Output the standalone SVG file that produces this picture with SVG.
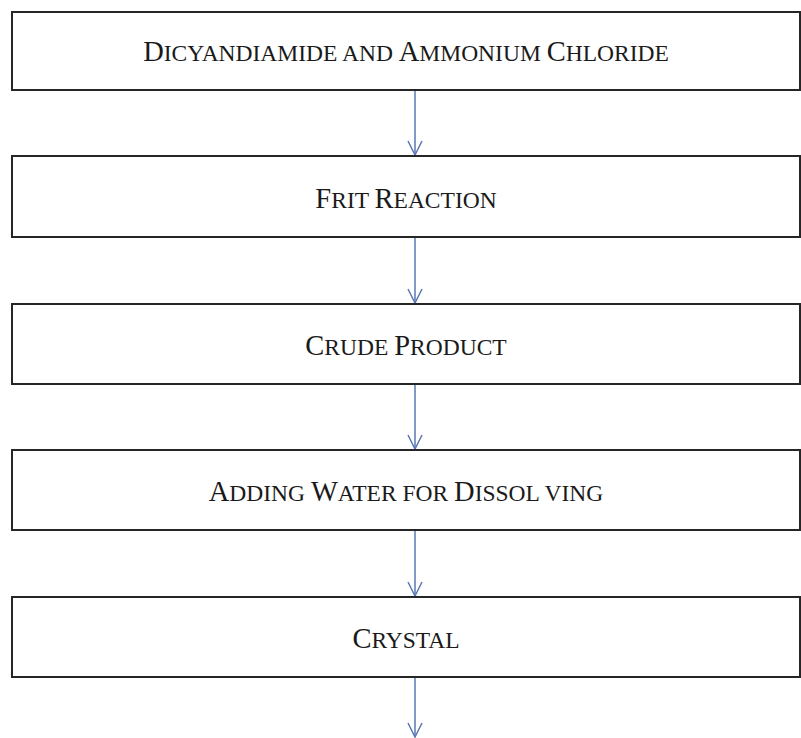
<svg xmlns="http://www.w3.org/2000/svg" width="801" height="738" viewBox="0 0 801 738">
<style>
.box{fill:#fff;stroke:#262626;stroke-width:2}
.lbl{font-family:"Liberation Serif","Times New Roman",serif;font-size:28.5px;fill:#1a1a1a;text-anchor:middle}
.sc{font-size:23.5px}
.conn{stroke:#5a78b4;stroke-width:1.5;fill:none}
</style>
<defs>
<marker id="arr" viewBox="0 0 16 16" refX="15" refY="8" markerWidth="16" markerHeight="16" markerUnits="userSpaceOnUse" orient="auto">
<path d="M1 1 L15 8 L1 15" fill="none" stroke="#5a78b4" stroke-width="1.5"/>
</marker>
</defs>
<rect x="0" y="0" width="801" height="738" fill="#fff"/>
<g id="connectors">
<line class="conn" x1="415" y1="91" x2="415" y2="155" marker-end="url(#arr)"/>
<line class="conn" x1="415" y1="238" x2="415" y2="303" marker-end="url(#arr)"/>
<line class="conn" x1="415" y1="385" x2="415" y2="449" marker-end="url(#arr)"/>
<line class="conn" x1="415" y1="531" x2="415" y2="596" marker-end="url(#arr)"/>
<line class="conn" x1="415" y1="678" x2="415" y2="737" marker-end="url(#arr)"/>
</g>
<g id="n1">
<rect class="box" x="12" y="12" width="788" height="78"/>
<text class="lbl" x="406" y="61">D<tspan class="sc">ICYANDIAMIDE AND </tspan>A<tspan class="sc">MMONIUM </tspan>C<tspan class="sc">HLORIDE</tspan></text>
</g>
<g id="n2">
<rect class="box" x="12" y="156" width="788" height="81"/>
<text class="lbl" x="406" y="208">F<tspan class="sc">RIT </tspan>R<tspan class="sc">EACTION</tspan></text>
</g>
<g id="n3">
<rect class="box" x="12" y="304" width="788" height="80"/>
<text class="lbl" x="406" y="355">C<tspan class="sc">RUDE </tspan>P<tspan class="sc">RODUCT</tspan></text>
</g>
<g id="n4">
<rect class="box" x="12" y="450" width="788" height="80"/>
<text class="lbl" x="406" y="501">A<tspan class="sc">DDING </tspan>W<tspan class="sc">ATER FOR </tspan>D<tspan class="sc">ISSOL VING</tspan></text>
</g>
<g id="n5">
<rect class="box" x="12" y="597" width="788" height="80"/>
<text class="lbl" x="406" y="648">C<tspan class="sc">RYSTAL</tspan></text>
</g>
</svg>
